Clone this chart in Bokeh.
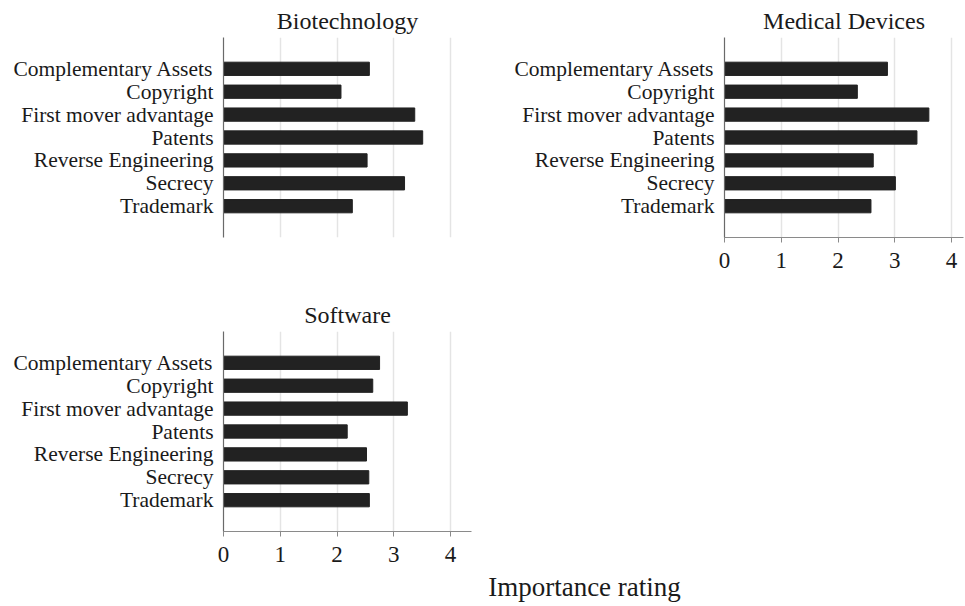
from bokeh.plotting import figure
from bokeh.layouts import column, row
from bokeh.models import FactorRange, Range1d, FixedTicker
from bokeh.core.properties import value
from bokeh.embed import file_html
from bokeh.resources import INLINE

categories = ["Complementary Assets", "Copyright", "First mover advantage", "Patents",
              "Reverse Engineering", "Secrecy", "Trademark"]
biotech = [2.57, 2.07, 3.37, 3.51, 2.53, 3.19, 2.27]
medical = [2.87, 2.34, 3.60, 3.39, 2.62, 3.01, 2.58]
software = [2.75, 2.63, 3.24, 2.18, 2.52, 2.56, 2.57]
x_ticks = [0, 1, 2, 3, 4]
panel_titles = ["Biotechnology", "Medical Devices", "Software"]
x_label = "Importance rating"

FONT = "Liberation Serif"
TXT = "#1a1a1a"


def make_panel(title, vals, width, height, bl, bt, br, bb, xmax, show_x, title_offset=0):
    p = figure(width=width, height=height,
               y_range=FactorRange(factors=list(reversed(categories)), range_padding=0.248),
               x_range=Range1d(0, xmax),
               output_backend="svg", toolbar_location=None,
               min_border_left=bl, min_border_top=bt, min_border_right=br, min_border_bottom=bb,
               title=title)
    p.hbar(y=categories, right=vals, left=0, height=0.58,
           fill_color="#222222", line_color="#222222")
    p.outline_line_color = None
    p.ygrid.grid_line_color = None
    p.xgrid.ticker = FixedTicker(ticks=x_ticks)
    p.xgrid.grid_line_color = "#e4e4e4"
    p.xgrid.grid_line_width = 1.5
    p.xaxis.ticker = FixedTicker(ticks=x_ticks)
    p.xaxis.minor_tick_line_color = None
    if show_x:
        p.xaxis.axis_line_color = "#8a8a8a"
        p.xaxis.major_tick_line_color = "#8a8a8a"
        p.xaxis.major_tick_out = 5
        p.xaxis.major_tick_in = 0
        p.xaxis.major_label_standoff = 10
        p.xaxis.major_label_text_font = FONT
        p.xaxis.major_label_text_font_size = "23px"
        p.xaxis.major_label_text_color = TXT
    else:
        p.xaxis.visible = False
    yax = p.yaxis[0]
    yax.axis_line_color = "#6a6a6a"
    yax.axis_line_width = 1.2
    yax.major_tick_line_color = None
    yax.minor_tick_line_color = None
    yax.major_tick_out = 0
    yax.major_label_standoff = 10
    yax.major_label_text_font = FONT
    yax.major_label_text_font_size = "21.5px"
    yax.major_label_text_color = TXT
    p.title.text_font = FONT
    p.title.text_font_size = "24px"
    p.title.text_font_style = "normal"
    p.title.text_color = TXT
    p.title.align = "center"
    p.title.standoff = 7
    p.title.offset = title_offset
    return p


p1 = make_panel(panel_titles[0], biotech, 490, 290, 223, 37, 19, 53, 4.37, False)
p2 = make_panel(panel_titles[1], medical, 474, 290, 234, 37, 1, 53, 4.21, True, 5)
p3 = make_panel(panel_titles[2], software, 490, 278, 223, 41, 19, 37, 4.37, True)

p4 = figure(width=964, height=36, x_range=Range1d(0, 1), y_range=Range1d(0, 1),
            output_backend="svg", toolbar_location=None, min_border=0)
p4.axis.visible = False
p4.grid.grid_line_color = None
p4.outline_line_color = None
p4.text(x=[0.5], y=[0.5], text=[x_label], text_align="center", text_baseline="middle",
        text_font=value(FONT), text_font_size="27px", text_color=TXT)

layout = column(row(p1, p2), p3, p4, spacing=0)

open("out.html", "w").write(file_html(layout, INLINE))
